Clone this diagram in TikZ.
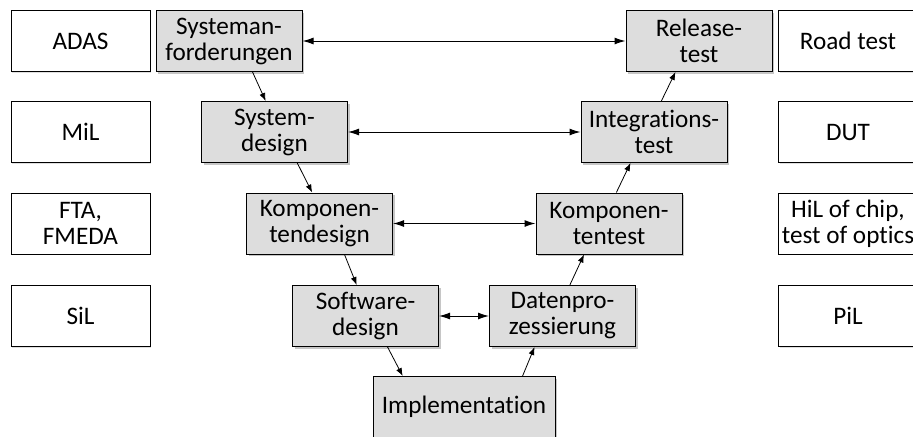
\documentclass[tikz,border=0pt]{standalone}
\usepackage{fontspec}
\setmainfont{Carlito}[Ligatures=NoCommon]
\usetikzlibrary{arrows.meta, calc, shadows}
\tikzset{
  vbox/.style={rectangle, draw=black, fill=gray!27, line width=0.5pt,
               minimum width=73pt, minimum height=30.5pt, inner sep=0pt,
               align=center, font=\fontsize{12.6}{13}\selectfont,
               drop shadow={shadow xshift=1pt, shadow yshift=-1pt, opacity=0.45}},
  toolbox/.style={rectangle, draw=black, fill=white, line width=0.5pt,
               minimum width=69.5pt, minimum height=30.5pt, inner sep=0pt,
               align=center, font=\fontsize{12.6}{13}\selectfont,
               drop shadow={shadow xshift=0.6pt, shadow yshift=-0.6pt, opacity=0.25}},
}

\begin{document}
\begin{tikzpicture}[
          x=0.5pt, y=-0.5pt,
          arr/.style={-{Latex[length=4pt,width=3pt]}, line width=0.4pt},
          darr/.style={{Latex[length=5.5pt,width=3.5pt]}-{Latex[length=5.5pt,width=3.5pt]}, line width=0.5pt}
        ]
          \useasboundingbox (0,0) rectangle (913,436);
          % V-model, left branch
          \node[vbox] (sa) at (229,41) {Systeman-\\forderungen};
          \node[vbox] (sd) at (274.5,132) {System-\\design};
          \node[vbox] (kd) at (319.5,223.5) {Komponen-\\tendesign};
          \node[vbox] (sw) at (365.5,316) {Software-\\design};
          \node[vbox, minimum width=91pt] (impl) at (464,407) {Implementation};
          % V-model, right branch
          \node[vbox] (dp) at (562.5,316) {Datenpro-\\zessierung};
          \node[vbox] (kt) at (609,223.5) {Komponen-\\tentest};
          \node[vbox] (it) at (654,132) {Integrations-\\test};
          \node[vbox] (rt) at (699,41) {Release-\\test};
          % methods left and right
          \node[toolbox] (adas) at (80.5,41) {ADAS};
          \node[toolbox] (mil) at (80.5,132) {MiL};
          \node[toolbox] (fta) at (80.5,223.5) {FTA,\\FMEDA};
          \node[toolbox] (sil) at (80.5,316) {SiL};
          \node[toolbox] (road) at (848,41) {Road test};
          \node[toolbox] (dut) at (848,132) {DUT};
          \node[toolbox] (hil) at (848,223.5) {HiL of chip,\\test of optics};
          \node[toolbox] (pil) at (848,316) {PiL};
          % verification links
          \draw[darr] (sa.east) -- (rt.west);
          \draw[darr] (sd.east) -- (it.west);
          \draw[darr] (kd.east) -- (kt.west);
          \draw[darr] (sw.east) -- (dp.west);
          % flow down and up
          \draw[arr] ($(sa.south west)!0.66!(sa.south east)$) -- ($(sd.north west)!0.44!(sd.north east)$);
          \draw[arr] ($(sd.south west)!0.655!(sd.south east)$) -- ($(kd.north west)!0.45!(kd.north east)$);
          \draw[arr] ($(kd.south west)!0.67!(kd.south east)$) -- ($(sw.north west)!0.44!(sw.north east)$);
          \draw[arr] ($(sw.south west)!0.65!(sw.south east)$) -- ($(impl.north west)!0.165!(impl.north east)$);
          \draw[arr] ($(impl.north west)!0.82!(impl.north east)$) -- ($(dp.south west)!0.31!(dp.south east)$);
          \draw[arr] ($(dp.north west)!0.55!(dp.north east)$) -- ($(kt.south west)!0.33!(kt.south east)$);
          \draw[arr] ($(kt.north west)!0.55!(kt.north east)$) -- ($(it.south west)!0.34!(it.south east)$);
          \draw[arr] ($(it.north west)!0.55!(it.north east)$) -- ($(rt.south west)!0.34!(rt.south east)$);
        \end{tikzpicture}
\end{document}
